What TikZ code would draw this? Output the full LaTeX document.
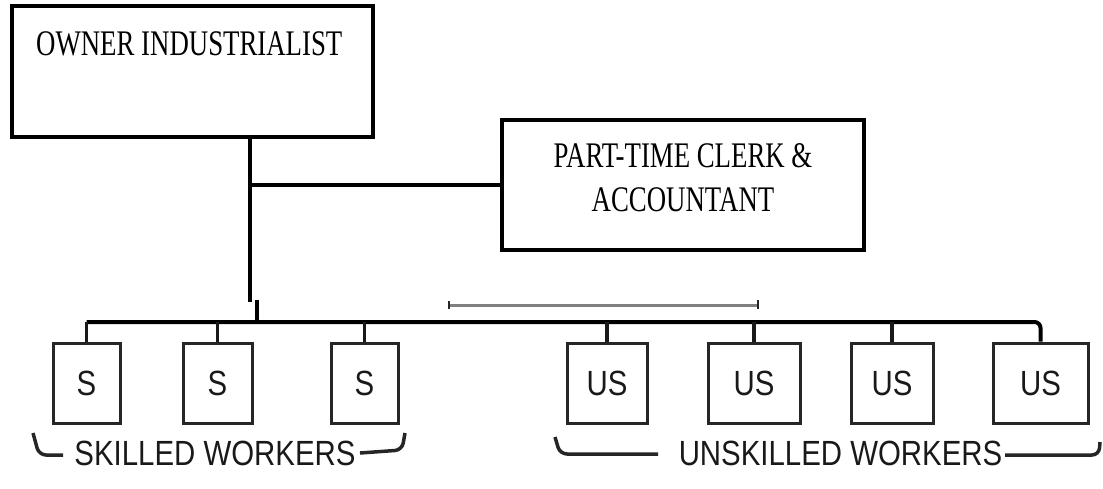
\documentclass[tikz,border=0pt]{standalone}
\usepackage{fontspec}
\usetikzlibrary{positioning}
\newfontfamily\chartserif[FakeStretch=0.745]{Liberation Serif}
\newfontfamily\chartsans[FakeStretch=0.84]{Liberation Sans}

\begin{document}
\begin{tikzpicture}[x=1pt,y=-1pt,
  bigbox/.style={draw, line width=4.5pt, inner sep=0pt},
  workerbox/.style={draw=black!85, line width=3pt, inner sep=0pt, minimum height=80pt,
    text=black!90, font=\chartsans\fontsize{35}{40}\selectfont},
  link/.style={line width=4pt},
  stub/.style={line width=3.5pt, black!90},
  bracket/.style={draw=black!85, line width=3.5pt, rounded corners=7pt},
  headtext/.style={inner sep=0pt, font=\chartserif\fontsize{36}{44}\selectfont},
  grouptext/.style={inner sep=0pt, text=black!90, font=\chartsans\fontsize{35}{40}\selectfont}]
  \useasboundingbox (0,0) rectangle (1103,488);

  %% owner and clerk
  \node (owner) [bigbox, minimum width=361pt, minimum height=131pt] at (192.5,71.5) {};
  \node (ownertext) [headtext, anchor=base west] at (36,55) {OWNER INDUSTRIALIST};

  \node (clerk) [bigbox, minimum width=362pt, minimum height=130pt] at (683,185) {};
  \node (clerktop) [headtext, anchor=base] at (683,167) {PART-TIME CLERK \&};
  \node (clerkbot) [headtext, anchor=base] at (683,211) {ACCOUNTANT};

  \coordinate (fork) at (250,302);
  \coordinate (bus) at (257,322);
  \draw[link] (owner.south -| fork) -- (fork);
  \draw[link] (fork |- clerk.west) -- (clerk.west);
  \draw[link] (257,300) -- (bus);

  %% workers
  \node (s1) [workerbox, minimum width=67pt] at (86.5,383) {S};
  \node (s2) [workerbox, minimum width=69pt] at (217.5,383) {S};
  \node (s3) [workerbox, minimum width=67pt] at (364.5,383) {S};
  \node (us1) [workerbox, minimum width=80pt] at (607,383) {US};
  \node (us2) [workerbox, minimum width=92pt] at (754,383) {US};
  \node (us3) [workerbox, minimum width=82pt] at (892,383) {US};
  \node (us4) [workerbox, minimum width=95pt] at (1040.5,383) {US};

  \draw[link, rounded corners=6pt] (s1.north |- bus) -- (us4.north |- bus) -- (us4.north);
  \foreach \w in {s1,s2,s3,us1,us2,us3}
    \draw[stub] (\w.north) -- (\w.north |- bus);

  %% faint rule above the bus
  \draw[line width=3pt, black!50] (449,305) -- (758,305);
  \draw[line width=2.5pt, black!85] (449,301) -- (449,309);
  \draw[line width=2.5pt, black!85] (758,300) -- (758,309);

  %% group labels
  \node (skilled) [grouptext, anchor=base] at (215,465) {SKILLED WORKERS};
  \node (unskilled) [grouptext, anchor=base] at (840.5,465) {UNSKILLED WORKERS};

  \draw[bracket] (33,433) -- (39,455) -- (63,455);
  \draw[bracket] (360,453) -- (402,450) -- (405,433);
  \draw[bracket] (555,437) -- (560,454) -- (658,454);
  \draw[bracket] (1005,455) -- (1099,455) -- (1100,442);
\end{tikzpicture}
\end{document}
